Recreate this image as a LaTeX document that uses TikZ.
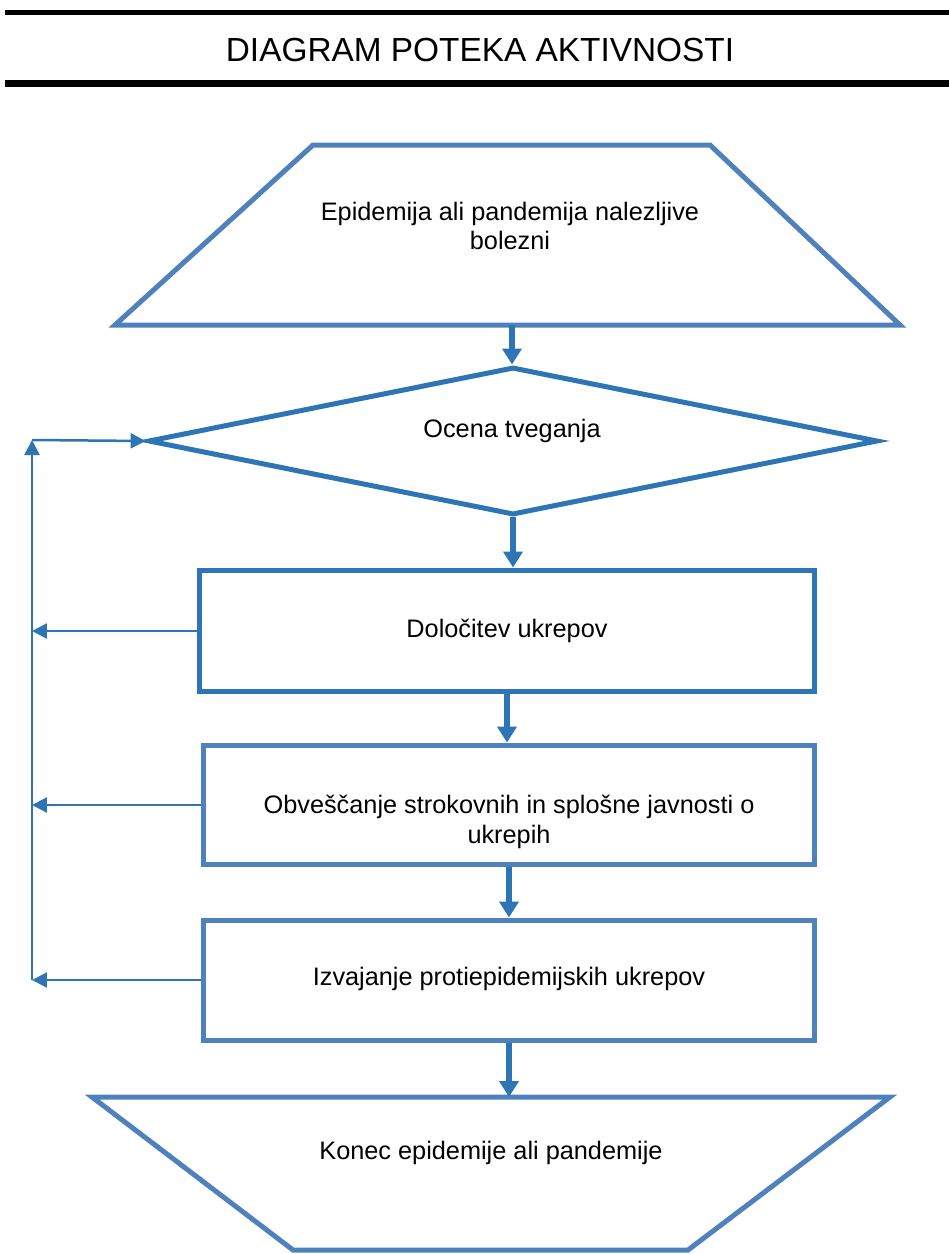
\documentclass[tikz,border=0pt]{standalone}
\usepackage{fontspec}
\setmainfont{Liberation Sans}
\usetikzlibrary{shapes.geometric,arrows.meta}
\definecolor{flowblue}{RGB}{46,117,182}
\definecolor{paleblue}{RGB}{79,129,189}

\begin{document}
\begin{tikzpicture}[x=0.02cm, y=-0.02cm,
  every node/.style={font=\fontsize{14.4}{17}\selectfont, align=center},
  trap/.style={draw=paleblue, line width=0.1cm},
  box/.style={rectangle, draw=paleblue, line width=0.1cm, inner sep=0pt},
  flow/.style={draw=flowblue, line width=0.13cm, -{Triangle[width=0.38cm,length=0.32cm]}},
  back/.style={draw=flowblue, line width=0.05cm, -{Triangle[width=0.3cm,length=0.3cm]}}]
  \useasboundingbox (0,0) rectangle (949,1254);
  \draw [line width=0.1cm] (5,12.5) -- (949,12.5);
  \draw [line width=0.14cm] (5,83) -- (949,83);
  \node (title) at (480,50) {\fontsize{19}{21}\selectfont DIAGRAM POTEKA AKTIVNOSTI};
  \draw [trap] (313,145) -- (710,145) -- (900,325) -- (115,325) -- cycle;
  \coordinate (startFoot) at (512,325);
  \node (risk) [diamond, draw=flowblue, line width=0.1cm, aspect=4.93, minimum width=14.6cm, minimum height=2.96cm, inner sep=0pt] at (513,441) {};
  \node (fix) [box, draw=flowblue, minimum width=12.3cm, minimum height=2.44cm] at (507,631) {};
  \node (inform) [box, minimum width=12.24cm, minimum height=2.4cm] at (509,805) {};
  \node (act) [box, minimum width=12.24cm, minimum height=2.4cm] at (509,980) {};
  \draw [trap] (92,1097) -- (890,1097) -- (688,1250) -- (293,1250) -- cycle;
  \coordinate (stopHead) at (509,1097);
  \node (startText) at (510,226) {Epidemija ali pandemija nalezljive\\bolezni};
  \node (riskText) at (512,431) {Ocena tveganja};
  \node (fixText) at (507,631) {Določitev ukrepov};
  \node (informText) at (509,822) {Obveščanje strokovnih in splošne javnosti o\\ukrepih};
  \node (actText) at (509,979) {Izvajanje protiepidemijskih ukrepov};
  \node (stopText) at (491,1153) {Konec epidemije ali pandemije};
  \coordinate (up) at (32,440);
  \draw [flow] (startFoot) -- (startFoot |- risk.north);
  \draw [flow] (risk.south) -- (risk.south |- fix.north);
  \draw [flow] (fix.south) -- (fix.south |- inform.north);
  \draw [flow] (inform.south) -- (inform.south |- act.north);
  \draw [flow] (act.south) -- (stopHead);
  \draw [back] (fix.west) -- (fix.west -| up);
  \draw [back] (inform.west) -- (inform.west -| up);
  \draw [back] (act.west) -- (act.west -| up);
  \draw [back] (act.west -| up) -- (up);
  \draw [back] (up) -- (risk.west);
\end{tikzpicture}
\end{document}
